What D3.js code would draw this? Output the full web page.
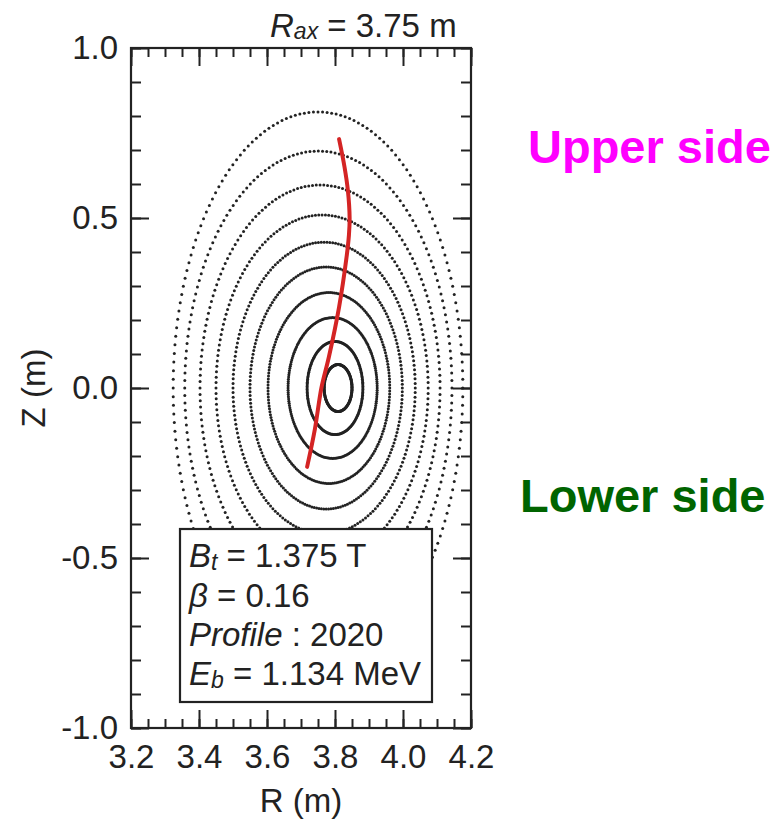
<!DOCTYPE html>
<html>
<head>
<meta charset="utf-8">
<script src="https://cdn.jsdelivr.net/npm/d3@7"></script>
<style>
  html, body { margin: 0; padding: 0; background: #fff; }
  svg { display: block; font-family: "Liberation Sans", Arial, Helvetica, sans-serif; }
</style>
</head>
<body>
<svg id="chart" width="782" height="822"></svg>
<script>
// Flux surfaces (innermost first): centre R, half-width a, half-height b, all in metres
const surfaceR0 = [3.809, 3.800, 3.793, 3.782, 3.774, 3.768, 3.762, 3.756, 3.751, 3.750];
const surfaceA  = [0.041, 0.082, 0.131, 0.179, 0.224, 0.268, 0.312, 0.353, 0.393, 0.426];
const surfaceB  = [0.069, 0.137, 0.207, 0.281, 0.356, 0.429, 0.509, 0.597, 0.697, 0.812];

// Beam line (red), R and Z in metres
const beamR = [3.812, 3.828, 3.838, 3.843, 3.841, 3.834, 3.812, 3.782, 3.760, 3.741, 3.718];
const beamZ = [0.732, 0.650, 0.580, 0.500, 0.450, 0.385, 0.238, 0.091, 0.000, -0.120, -0.232];

// Axis ticks
const rMajor = [3.2, 3.4, 3.6, 3.8, 4.0, 4.2];
const rMinor = d3.range(3.2, 4.2001, 0.05);
const zMajor = [-1.0, -0.5, 0.0, 0.5, 1.0];
const zMinor = d3.range(-1.0, 1.0001, 0.1);

// Parameter box lines
const paramValues = ["1.375 T", "0.16", "2020", "1.134 MeV"];

const svg = d3.select("#chart");
const ink = "#222";
const fs = "33px";

const x = d3.scaleLinear().domain([3.2, 4.2]).range([131, 471]);
const y = d3.scaleLinear().domain([-1, 1]).range([728, 48]);

const fmt = v => d3.format(".1f")(v).replace("\u2212", "-");

// Flux surfaces drawn as point sequences at equal poloidal angle steps
const nPts = 200;
const surfaces = svg.append("g");
surfaceR0.forEach((r0, i) => {
  const pts = d3.range(nPts).map(k => {
    const th = 2 * Math.PI * k / nPts;
    return [r0 + surfaceA[i] * Math.cos(th), surfaceB[i] * Math.sin(th)];
  });
  surfaces.append("g").selectAll("circle").data(pts).join("circle")
    .attr("cx", d => x(d[0]))
    .attr("cy", d => y(d[1]))
    .attr("r", 1.5)
    .attr("fill", ink);
});

// Beam line
svg.append("path")
  .datum(beamR.map((r, i) => [r, beamZ[i]]))
  .attr("d", d3.line().x(d => x(d[0])).y(d => y(d[1])).curve(d3.curveCatmullRom))
  .attr("fill", "none")
  .attr("stroke", "#d42424")
  .attr("stroke-width", 4)
  .attr("stroke-linecap", "round");

// Axes with inward ticks on all four sides
function styleAxis(g) {
  g.select(".domain").remove();
  g.selectAll("line").attr("stroke", ink).attr("stroke-width", 2);
  g.selectAll("text").attr("fill", ink).style("font-size", fs)
    .style("font-family", "'Liberation Sans', Arial, sans-serif");
}

svg.append("g").attr("transform", "translate(0,728)")
  .call(d3.axisBottom(x).tickValues(rMinor).tickSize(-9).tickFormat("")).call(styleAxis);
svg.append("g").attr("transform", "translate(0,728)")
  .call(d3.axisBottom(x).tickValues(rMajor).tickSize(-18).tickPadding(17).tickFormat(fmt)).call(styleAxis);
svg.append("g").attr("transform", "translate(0,48)")
  .call(d3.axisTop(x).tickValues(rMinor).tickSize(-9).tickFormat("")).call(styleAxis);
svg.append("g").attr("transform", "translate(0,48)")
  .call(d3.axisTop(x).tickValues(rMajor).tickSize(-18).tickFormat("")).call(styleAxis);

svg.append("g").attr("transform", "translate(131,0)")
  .call(d3.axisLeft(y).tickValues(zMinor).tickSize(-10).tickFormat("")).call(styleAxis);
svg.append("g").attr("transform", "translate(131,0)")
  .call(d3.axisLeft(y).tickValues(zMajor).tickSize(-18).tickPadding(13).tickFormat(fmt)).call(styleAxis);
svg.append("g").attr("transform", "translate(471,0)")
  .call(d3.axisRight(y).tickValues(zMinor).tickSize(-10).tickFormat("")).call(styleAxis);
svg.append("g").attr("transform", "translate(471,0)")
  .call(d3.axisRight(y).tickValues(zMajor).tickSize(-18).tickFormat("")).call(styleAxis);

// Frame
svg.append("rect")
  .attr("x", x(3.2)).attr("y", y(1))
  .attr("width", x(4.2) - x(3.2)).attr("height", y(-1) - y(1))
  .attr("fill", "none").attr("stroke", ink).attr("stroke-width", 2.2);

// Axis titles
svg.append("text").attr("x", 301).attr("y", 812).attr("text-anchor", "middle")
  .attr("fill", ink).style("font-size", fs).text("R (m)");
svg.append("text").attr("transform", "translate(45,388) rotate(-90)").attr("text-anchor", "middle")
  .attr("fill", ink).style("font-size", fs).text("Z (m)");

// Axis position label above the frame
const rax = svg.append("text").attr("x", 270).attr("y", 37).attr("fill", ink).style("font-size", fs);
rax.append("tspan").style("font-style", "italic").text("R");
rax.append("tspan").style("font-style", "italic").style("font-size", "23px").attr("dy", 2).text("ax");
rax.append("tspan").attr("dy", -2).text(" = 3.75 m");

// Parameter box
svg.append("rect").attr("x", 180).attr("y", 529).attr("width", 252).attr("height", 173)
  .attr("fill", "#fff").attr("stroke", ink).attr("stroke-width", 2.2);

const lineY = [567, 607, 646, 685];
const t1 = svg.append("text").attr("x", 189).attr("y", lineY[0]).attr("fill", ink).style("font-size", fs);
t1.append("tspan").style("font-style", "italic").text("B");
t1.append("tspan").style("font-style", "italic").style("font-size", "23px").attr("dy", 3).text("t");
t1.append("tspan").attr("dy", -3).text(" = " + paramValues[0]);

const t2 = svg.append("text").attr("x", 189).attr("y", lineY[1]).attr("fill", ink).style("font-size", fs);
t2.append("tspan").style("font-style", "italic").text("\u03b2");
t2.append("tspan").text(" = " + paramValues[1]);

const t3 = svg.append("text").attr("x", 189).attr("y", lineY[2]).attr("fill", ink).style("font-size", fs);
t3.append("tspan").style("font-style", "italic").text("Profile");
t3.append("tspan").text(" : " + paramValues[2]);

const t4 = svg.append("text").attr("x", 189).attr("y", lineY[3]).attr("fill", ink).style("font-size", fs);
t4.append("tspan").style("font-style", "italic").text("E");
t4.append("tspan").style("font-style", "italic").style("font-size", "23px").attr("dy", 3).text("b");
t4.append("tspan").attr("dy", -3).text(" = " + paramValues[3]);

// Side annotations
svg.append("text").attr("x", 528).attr("y", 163).attr("fill", "#ff00ff")
  .style("font-size", "47px").style("font-weight", "bold").text("Upper side");
svg.append("text").attr("x", 520).attr("y", 512).attr("fill", "#006400")
  .style("font-size", "47px").style("font-weight", "bold").text("Lower side");
</script>
</body>
</html>
